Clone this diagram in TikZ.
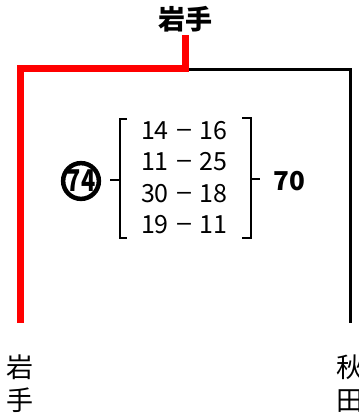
\documentclass[tikz,border=0pt]{standalone}
\usepackage{fontspec}
\setmainfont{Noto Sans CJK JP}
\begin{document}
\begin{tikzpicture}[x=1pt,y=-1pt,
  redline/.style={draw=red,line width=7pt},
  blackline/.style={draw=black,line width=3pt},
  brk/.style={draw=black,line width=1.6pt},
  lbl/.style={inner sep=0pt,font=\fontsize{27}{30}\selectfont},
  vlbl/.style={inner sep=0pt,align=center,font=\fontsize{27}{33}\selectfont},
  score/.style={inner sep=0pt,font=\fontsize{25}{28}\selectfont}]
\useasboundingbox[fill=white] (0,0) rectangle (359,416);
% top label
\node[lbl,font=\fontsize{27}{30}\selectfont\bfseries] (top) at (185,19) {岩手};
% bracket line
\coordinate (t) at (185.5,35);
\coordinate (j) at (185.5,68.5);
\coordinate (jr) at (189,69.5);
\coordinate (ll) at (20,323);
\coordinate (rr) at (350.5,323);
\draw[redline,line join=miter] (t) -- (j) -| (ll);
\draw[blackline,line join=miter] (jr) -| (rr);
% bottom labels
\node[vlbl] (b1) at (20,384) {岩\\手};
\node[vlbl] (b2) at (350,384) {秋\\田};
% scores
\node[score] (s1) at (184.5,131) {\makebox[26pt]{14}\makebox[32pt]{\scalebox{1.15}[1]{−}}\makebox[27pt]{16}};
\node[score] (s2) at (184.5,162) {\makebox[26pt]{11}\makebox[32pt]{\scalebox{1.15}[1]{−}}\makebox[27pt]{25}};
\node[score] (s3) at (184.5,194) {\makebox[26pt]{30}\makebox[32pt]{\scalebox{1.15}[1]{−}}\makebox[27pt]{18}};
\node[score] (s4) at (184.5,225) {\makebox[26pt]{19}\makebox[32pt]{\scalebox{1.15}[1]{−}}\makebox[27pt]{11}};
% brackets
\draw[brk] (127,119) -- (120,119) -- (120,238) -- (127,238);
\draw[brk] (110,180) -- (120,180);
\draw[brk] (242,118) -- (251,118) -- (251,238) -- (242,238);
\draw[brk] (251,179) -- (260,179);
% circled 74
\node[circle,draw=black,line width=4.5pt,minimum size=34pt,inner sep=0pt,
  font=\fontsize{30}{30}\selectfont\bfseries] (c74) at (81,181) {\scalebox{0.78}[1]{74}};
% 70
\node[inner sep=0pt,font=\fontsize{26}{28}\selectfont\bfseries] (n70) at (289,181) {70};
\end{tikzpicture}
\end{document}
